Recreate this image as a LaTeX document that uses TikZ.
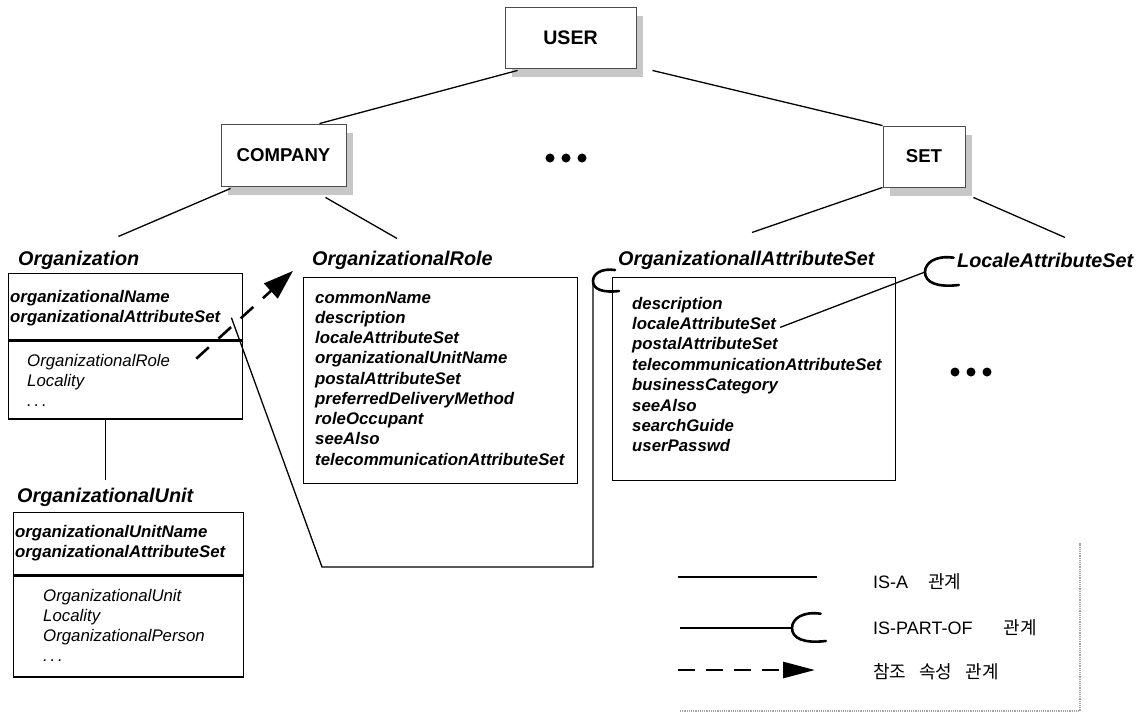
\documentclass[tikz,border=0pt]{standalone}
\usepackage{fontspec}
\setmainfont{Liberation Sans}
\newfontfamily\krfont{Noto Sans CJK KR}
\usetikzlibrary{arrows.meta,shadows,calc}

\tikzset{
  topbox/.style={draw=black!70, line width=0.9pt, fill=white, inner sep=0pt,
    font=\bfseries\fontsize{18.6}{20}\selectfont,
    drop shadow={shadow xshift=7pt, shadow yshift=-9pt, fill=black!22, opacity=1}},
  classbox/.style={draw, line width=1.4pt, anchor=north west, inner sep=0pt},
  classname/.style={anchor=base west, inner sep=0pt, font=\bfseries\itshape\fontsize{19.8}{22}\selectfont},
  attr/.style={anchor=base west, inner sep=0pt, font=\bfseries\itshape\fontsize{16.8}{20}\selectfont},
  refattr/.style={anchor=base west, inner sep=0pt, font=\itshape\fontsize{16.8}{20}\selectfont},
  legtext/.style={anchor=base west, inner sep=0pt, font=\fontsize{18}{20}\selectfont},
  isa/.style={line width=1.3pt},
  cupline/.style={line width=2.6pt, line cap=round},
  refline/.style={line width=2.6pt, dash pattern=on 17pt off 13pt, -{Triangle[length=30pt, width=20pt]}},
  partcup/.pic={\draw[cupline] (22,-11) .. controls (8,-13) and (0,-7) .. (0,0)
      .. controls (0,8) and (9,12) .. (26,10);}
}

\begin{document}
\begin{tikzpicture}[x=1pt, y=-1pt]

    \path[use as bounding box, fill=white] (0,0) rectangle (1148,716);

    % Top of the hierarchy
    \node[topbox, minimum width=131, minimum height=61, font=\bfseries\fontsize{19.6}{22}\selectfont] (user) at (570.5,37.5) {USER};
    \node[topbox, minimum width=125, minimum height=62] (company) at (283.5,155) {COMPANY};
    \node[topbox, minimum width=82, minimum height=61] (set) at (924,156.5) {SET};

    \foreach \x in {550, 566, 582} {
        \fill (\x,158) circle (4.5);
    }

    % Class names
    \node[classname] (orglbl) at (18,265) {Organization};
    \node[classname] (orlbl) at (312,265) {OrganizationalRole};
    \node[classname] (oaslbl) at (618,265) {OrganizationallAttributeSet};
    \node[classname] (laslbl) at (957,267) {LocaleAttributeSet};
    \node[classname] (oulbl) at (17,502) {OrganizationalUnit};

    % Organization
    \node[classbox, minimum width=234, minimum height=66] (orgbox) at (8,273) {};
    \node[classbox, minimum width=234, minimum height=78] (orgsub) at (orgbox.south west) {};
    \foreach \a [count=\i] in {organizationalName, organizationalAttributeSet} {
        \node[attr] (org\i) at (10, 282+20*\i) {\a};
    }
    \foreach \a [count=\i] in {OrganizationalRole, Locality} {
        \node[refattr] (orgsub\i) at (27, 346+20*\i) {\a};
    }
    \node[refattr] (orgsub3) at (27, 406) {.\,.\,.};

    % OrganizationalUnit
    \node[classbox, minimum width=230, minimum height=62] (oubox) at (13,512) {};
    \node[classbox, minimum width=230, minimum height=101] (ousub) at (oubox.south west) {};
    \foreach \a [count=\i] in {organizationalUnitName, organizationalAttributeSet} {
        \node[attr] (ou\i) at (15, 517+20*\i) {\a};
    }
    \foreach \a [count=\i] in {OrganizationalUnit, Locality, OrganizationalPerson} {
        \node[refattr] (ousub\i) at (43, 581+20*\i) {\a};
    }
    \node[refattr] (ousub4) at (43, 661) {.\,.\,.};

    % OrganizationalRole
    \node[classbox, minimum width=274, minimum height=206] (orbox) at (303,277) {};
    \foreach \a [count=\i] in {commonName, description, localeAttributeSet,
        organizationalUnitName, postalAttributeSet, preferredDeliveryMethod,
        roleOccupant, seeAlso, telecommunicationAttributeSet} {
        \node[attr] (or\i) at (315, 282.75+20.25*\i) {\a};
    }

    % OrganizationallAttributeSet
    \node[classbox, minimum width=283, minimum height=203] (oasbox) at (612,277) {};
    \foreach \a [count=\i] in {description, localeAttributeSet, postalAttributeSet,
        telecommunicationAttributeSet, businessCategory, seeAlso, searchGuide, userPasswd} {
        \node[attr] (oas\i) at (632, 288.6+20.4*\i) {\a};
    }

    \foreach \x in {955, 971, 987} {
        \fill (\x,372) circle (4.5);
    }

    % IS-A lines
    \draw[isa] ($(user.south west)+(13,2)$) -- ($(company.north)+(36,0)$);
    \draw[isa] ($(user.south east)+(16,2)$) -- (set.north west);
    \draw[isa] ($(company.south west)+(10,2)$) -- ($(orglbl.north east)+(-21,-14)$);
    \draw[isa] ($(company.south)+(42,11)$) -- ($(orlbl.north west)+(85,-12)$);
    \draw[isa] (set.south west) -- ($(oaslbl.north west)+(134,-18)$);
    \draw[isa] ($(set.south east)+(8,10)$) -- ($(laslbl.north west)+(108,-15)$);
    \draw[isa] (oulbl.north |- orgsub.south) -- ($(oulbl.north)+(0,-7)$);

    % IS-PART-OF lines
    \coordinate (oascup) at ($(oasbox.north west)+(-19,4)$);
    \coordinate (elbow) at (322,567);
    \draw[isa] ($(org2.east)+(11,0)$) -- (elbow) -| (oascup);
    \pic at (oascup) {partcup};

    \coordinate (lascup) at ($(laslbl.base west)+(-32,5)$);
    \draw[isa] ($(oas2.east)+(4,4)$) -- (lascup);
    \pic[scale=1.3] at (lascup) {partcup};

    % reference attribute
    \draw[refline] ($(orgsub1.east)+(26,-3)$) -- ($(orlbl.west)+(-19,11)$);

    % Legend
    \node[legtext] (legisa) at (873,588) {IS-A\hspace{20pt}{\krfont 관계}};
    \node[legtext] (legpart) at (873,634) {IS-PART-OF\hspace{31pt}{\krfont 관계}};
    \node[legtext] (legref) at (873,678) {\krfont 참조\hspace{13pt}속성\hspace{13pt}관계};

    \draw[line width=2.8pt] ($(legisa.base west)+(-195,-11)$) -- ($(legisa.base west)+(-56,-11)$);
    \coordinate (legcup) at ($(legpart.base west)+(-81,-6)$);
    \draw[line width=2.8pt] ($(legcup)+(-112,0)$) -- (legcup);
    \pic[scale=1.3] at (legcup) {partcup};
    \draw[line width=2.8pt, dash pattern=on 17pt off 11pt, -{Triangle[length=32pt, width=16pt]}]
        ($(legref.base west)+(-195,-8)$) -- ($(legref.base west)+(-58,-8)$);

    \draw[black!35, densely dotted, line width=1.2pt] (680,711) -- (1080,711) -- (1080,543);

\end{tikzpicture}
\end{document}
